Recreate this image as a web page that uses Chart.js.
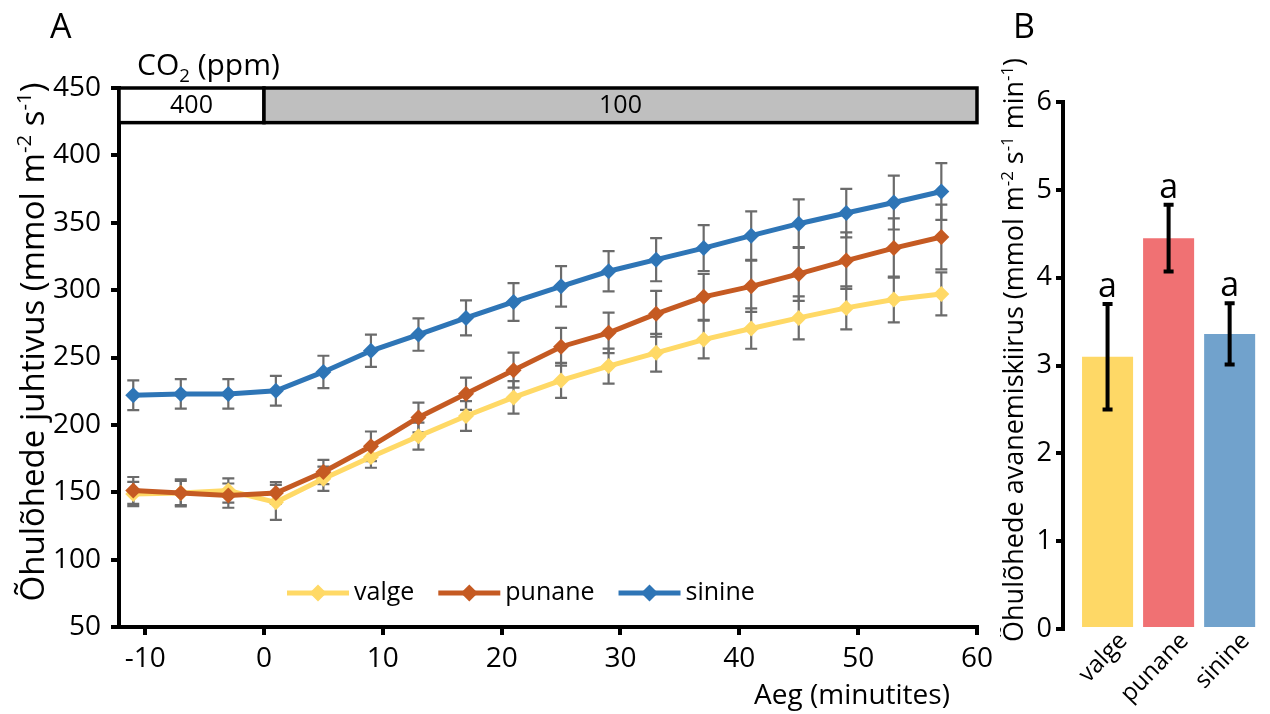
<!DOCTYPE html>
<html>
<head>
<meta charset="utf-8">
<script src="https://cdn.jsdelivr.net/npm/chart.js@4.4.1/dist/chart.umd.min.js"></script>
<style>
  html, body { margin: 0; padding: 0; background: #fff; }
  #wrap { position: relative; width: 1270px; height: 714px; overflow: hidden; }
  #chartA { position: absolute; left: 0; top: 0; }
  #chartB { position: absolute; left: 1000px; top: 0; }
</style>
</head>
<body>
<div id="wrap">
  <canvas id="chartA" width="1000" height="714"></canvas>
  <canvas id="chartB" width="270" height="714"></canvas>
</div>
<script>
const FONT = "'Open Sans', 'DejaVu Sans', sans-serif";

// Panel A: stomatal conductance over time
const TIME = [-11, -7, -3, 1, 5, 9, 13, 17, 21, 25, 29, 33, 37, 41, 45, 49, 53, 57];
const VALGE = [148.7, 149.5, 151.3, 142.5, 160, 176.2, 191.6, 206.6, 220.4, 233, 243.6, 253.5, 263.3, 271.5, 279.4, 286.8, 293, 297.2];
const PUNANE = [151.3, 149.5, 147.5, 149.5, 165, 184.1, 205.5, 223.1, 240.6, 258, 268.3, 282.4, 295, 302.8, 312, 321.9, 331.2, 339.4];
const SININE = [222, 223, 223, 225.3, 239.3, 255, 267, 279.4, 291.2, 302.8, 314, 322.6, 331.2, 340.4, 349.3, 357.2, 365, 373.2];
const VALGE_ERR = [9, 9, 9, 13, 9, 8, 10, 11, 12, 13, 13, 14, 14, 15, 16, 16, 17, 16];
const PUNANE_ERR = [10, 10, 9, 8, 9, 11, 11, 12, 13, 14, 15, 17, 17, 19, 20, 21, 22, 24];
const SININE_ERR = [11, 11, 11, 11, 12, 12, 12, 13, 14, 15, 15, 16, 17, 18, 18, 18, 20, 21];
const SERIES_NAMES = ["valge", "punane", "sinine"];
const LINE_COLORS = ["#ffd966", "#c55a22", "#2e75b6"];
const X_MIN = -12.2;
const X_MAX = 60;
const X_TICKS = [-10, 0, 10, 20, 30, 40, 50, 60];
const Y_TICKS = [50, 100, 150, 200, 250, 300, 350, 400, 450];
// CO2 strip at the top of panel A
const CO2_FROM = [X_MIN, 0];
const CO2_TO = [0, 60];
const CO2_LEVELS = ["400", "100"];
const CO2_FILL = ["#ffffff", "#bfbfbf"];
const CO2_YRANGE = [424.3, 450];

// Panel B: opening rate
const TREATMENTS = ["valge", "punane", "sinine"];
const RATE = [3.1, 4.45, 3.36];
const RATE_ERR = [0.6, 0.38, 0.35];
const RATE_GROUP = ["a", "a", "a"];
const BAR_COLORS = ["#fed866", "#f07173", "#71a2cc"];
const B_TICKS = [0, 1, 2, 3, 4, 5, 6];

// draws text with super/subscript pieces; kind 1 = sup, -1 = sub
function drawRich(ctx, parts, x, y, size, rotate, align) {
  ctx.save();
  ctx.translate(x, y);
  if (rotate) ctx.rotate(rotate);
  const segs = parts.map(([t, k]) => {
    const fs = k ? size * 0.62 : size;
    ctx.font = fs + "px " + FONT;
    return { t, k, fs, w: ctx.measureText(t).width };
  });
  const total = segs.reduce((s, p) => s + p.w, 0);
  let cx = align === "left" ? 0 : align === "right" ? -total : -total / 2;
  ctx.fillStyle = "#000";
  ctx.textBaseline = "alphabetic";
  ctx.textAlign = "left";
  segs.forEach((p) => {
    ctx.font = p.fs + "px " + FONT;
    const dy = p.k === 1 ? -size * 0.38 : p.k === -1 ? size * 0.22 : 0;
    ctx.fillText(p.t, cx, dy);
    cx += p.w;
  });
  ctx.restore();
}

const errorBarsA = {
  id: "errorBarsA",
  beforeDatasetsDraw(chart) {
    const { ctx, scales: { x, y } } = chart;
    ctx.save();
    ctx.strokeStyle = "#6b6b6b";
    ctx.lineWidth = 2.2;
    chart.data.datasets.forEach((ds) => {
      ds.data.forEach((p, i) => {
        const px = x.getPixelForValue(p.x);
        const top = y.getPixelForValue(p.y + ds.err[i]);
        const bot = y.getPixelForValue(p.y - ds.err[i]);
        ctx.beginPath();
        ctx.moveTo(px, top); ctx.lineTo(px, bot);
        ctx.moveTo(px - 6, top); ctx.lineTo(px + 6, top);
        ctx.moveTo(px - 6, bot); ctx.lineTo(px + 6, bot);
        ctx.stroke();
      });
    });
    ctx.restore();
  },
};

const co2Strip = {
  id: "co2Strip",
  afterDraw(chart) {
    const { ctx, scales: { x, y } } = chart;
    const y0 = y.getPixelForValue(CO2_YRANGE[1]);
    const y1 = y.getPixelForValue(CO2_YRANGE[0]);
    ctx.save();
    CO2_LEVELS.forEach((lab, i) => {
      const x0 = x.getPixelForValue(CO2_FROM[i]);
      const x1 = x.getPixelForValue(CO2_TO[i]);
      ctx.fillStyle = CO2_FILL[i];
      ctx.fillRect(x0, y0, x1 - x0, y1 - y0);
      ctx.strokeStyle = "#000";
      ctx.lineWidth = 3.5;
      ctx.strokeRect(x0, y0, x1 - x0, y1 - y0);
      ctx.fillStyle = "#000";
      ctx.font = "25px " + FONT;
      ctx.textAlign = "center";
      ctx.textBaseline = "middle";
      ctx.fillText(lab, (x0 + x1) / 2, (y0 + y1) / 2 + 1);
    });
    ctx.restore();
  },
};

const legendA = {
  id: "legendA",
  afterDatasetsDraw(chart) {
    const ctx = chart.ctx;
    const ly = 593;
    let lx = 287;
    ctx.save();
    ctx.font = "25px " + FONT;
    ctx.textBaseline = "middle";
    ctx.textAlign = "left";
    SERIES_NAMES.forEach((name, i) => {
      ctx.strokeStyle = LINE_COLORS[i];
      ctx.lineWidth = 5;
      ctx.beginPath();
      ctx.moveTo(lx, ly); ctx.lineTo(lx + 62, ly);
      ctx.stroke();
      ctx.fillStyle = LINE_COLORS[i];
      ctx.beginPath();
      ctx.moveTo(lx + 31 - 8.5, ly); ctx.lineTo(lx + 31, ly - 8.5);
      ctx.lineTo(lx + 31 + 8.5, ly); ctx.lineTo(lx + 31, ly + 8.5);
      ctx.closePath(); ctx.fill();
      ctx.fillStyle = "#000";
      ctx.fillText(name, lx + 67, ly);
      lx += 67 + ctx.measureText(name).width + 24;
    });
    ctx.restore();
  },
};

const textA = {
  id: "textA",
  afterDraw(chart) {
    const ctx = chart.ctx;
    drawRich(ctx, [["A", 0]], 50, 38, 34, 0, "left");
    drawRich(ctx, [["CO", 0], ["2", -1], [" (ppm)", 0]], 137, 75, 30, 0, "left");
    drawRich(ctx, [["Õhulõhede juhtivus (mmol m", 0], ["-2", 1], [" s", 0], ["-1", 1], [")", 0]], 44, 342, 33, -Math.PI / 2, "center");
    drawRich(ctx, [["Aeg (minutites)", 0]], 852, 704, 28, 0, "center");
  },
};

new Chart(document.getElementById("chartA"), {
  type: "line",
  data: {
    datasets: [VALGE, PUNANE, SININE].map((vals, i) => ({
      label: SERIES_NAMES[i],
      data: TIME.map((t, j) => ({ x: t, y: vals[j] })),
      err: [VALGE_ERR, PUNANE_ERR, SININE_ERR][i],
      borderColor: LINE_COLORS[i],
      backgroundColor: LINE_COLORS[i],
      borderWidth: 5,
      pointStyle: "rectRot",
      pointRadius: 8,
      pointBorderWidth: 0,
      tension: 0,
      order: 2 - i,
    })),
  },
  options: {
    responsive: false,
    animation: false,
    layout: { padding: { left: 0, right: 22, top: 88, bottom: 0 } },
    plugins: { legend: { display: false }, tooltip: { enabled: false } },
    scales: {
      x: {
        type: "linear",
        min: X_MIN,
        max: X_MAX,
        afterBuildTicks: (s) => { s.ticks = X_TICKS.map((v) => ({ value: v })); },
        afterFit: (s) => { s.height = 87; },
        border: { color: "#000", width: 4 },
        grid: { drawOnChartArea: false, color: "#000", lineWidth: 4, tickLength: 8 },
        ticks: { font: { family: FONT, size: 28 }, color: "#000", padding: 7, maxRotation: 0 },
      },
      y: {
        min: 50,
        max: 450,
        afterBuildTicks: (s) => { s.ticks = Y_TICKS.map((v) => ({ value: v })); },
        afterFit: (s) => { s.width = 119; },
        border: { color: "#000", width: 4 },
        grid: { drawOnChartArea: false, color: "#000", lineWidth: 4, tickLength: 8 },
        ticks: { font: { family: FONT, size: 28 }, color: "#000", padding: 10 },
      },
    },
  },
  plugins: [errorBarsA, co2Strip, legendA, textA],
});

const errorBarsB = {
  id: "errorBarsB",
  afterDatasetsDraw(chart) {
    const { ctx, scales: { x, y } } = chart;
    ctx.save();
    ctx.strokeStyle = "#000";
    ctx.lineWidth = 4;
    RATE.forEach((v, i) => {
      const px = x.getPixelForValue(i);
      const top = y.getPixelForValue(v + RATE_ERR[i]);
      const bot = y.getPixelForValue(v - RATE_ERR[i]);
      ctx.beginPath();
      ctx.moveTo(px, top); ctx.lineTo(px, bot);
      ctx.moveTo(px - 5, top); ctx.lineTo(px + 5, top);
      ctx.moveTo(px - 5, bot); ctx.lineTo(px + 5, bot);
      ctx.stroke();
      ctx.fillStyle = "#000";
      ctx.font = "34px " + FONT;
      ctx.textAlign = "center";
      ctx.textBaseline = "alphabetic";
      ctx.fillText(RATE_GROUP[i], px, top - 7);
    });
    ctx.restore();
  },
};

const textB = {
  id: "textB",
  afterDraw(chart) {
    const ctx = chart.ctx;
    drawRich(ctx, [["B", 0]], 13, 38, 34, 0, "left");
    drawRich(ctx, [["Õhulõhede avanemiskiirus (mmol m", 0], ["-2", 1], [" s", 0], ["-1", 1], [" min", 0], ["-1", 1], [")", 0]], 23, 350, 27, -Math.PI / 2, "center");
  },
};

new Chart(document.getElementById("chartB"), {
  type: "bar",
  data: {
    datasets: [{
      data: TREATMENTS.map((t, i) => ({ x: i, y: RATE[i] })),
      backgroundColor: BAR_COLORS,
      borderWidth: 0,
      barPercentage: 0.836,
      categoryPercentage: 1,
    }],
  },
  options: {
    responsive: false,
    animation: false,
    layout: { padding: { left: 0, right: 8, top: 102, bottom: 0 } },
    plugins: { legend: { display: false }, tooltip: { enabled: false } },
    scales: {
      x: {
        type: "linear",
        offset: false,
        min: -0.73,
        max: 2.53,
        afterBuildTicks: (s) => { s.ticks = TREATMENTS.map((t, i) => ({ value: i })); },
        afterFit: (s) => { s.height = 85; },
        grid: { display: false },
        border: { display: false },
        ticks: {
          callback: (v) => TREATMENTS[v],
          minRotation: 46,
          maxRotation: 46,
          padding: -10,
          labelOffset: 16,
          font: { family: FONT, size: 24 },
          color: "#000",
        },
      },
      y: {
        min: 0,
        max: 6,
        afterBuildTicks: (s) => { s.ticks = B_TICKS.map((v) => ({ value: v })); },
        afterFit: (s) => { s.width = 63; },
        border: { color: "#000", width: 4 },
        grid: { drawOnChartArea: false, color: "#000", lineWidth: 4, tickLength: 7 },
        ticks: { font: { family: FONT, size: 27 }, color: "#000", padding: 4 },
      },
    },
  },
  plugins: [errorBarsB, textB],
});
</script>
</body>
</html>
